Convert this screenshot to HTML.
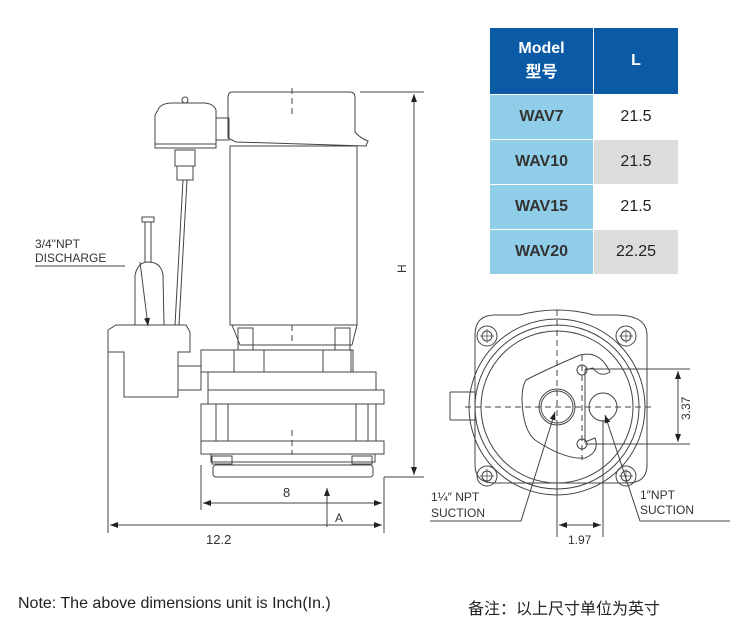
<!DOCTYPE html>
<html><head><meta charset="utf-8"><style>
body{margin:0;background:#fff;width:736px;height:626px;overflow:hidden;position:relative;font-family:"Liberation Sans","Noto Sans CJK SC",sans-serif}
table{position:absolute;left:489px;top:27px;border-collapse:collapse}
td{padding:0;text-align:center;font-size:16px;border:1px solid #fff}
.v{width:84px;color:#222}
.h{background:#0a5aa6;color:#fff !important;font-weight:bold;height:66px}
.m{background:#8fcde8;color:#333;font-weight:bold;width:103px;height:44px}
.g{background:#dcdcdc}
.t{position:absolute;top:595px;font-size:16px;color:#222}
</style></head><body>
<svg width="736" height="626" style="position:absolute;left:0;top:0" fill="none" stroke="#444" stroke-width="1" font-family="Liberation Sans,sans-serif">
<defs><marker id="a" markerWidth="8" markerHeight="6" refX="8" refY="3" orient="auto-start-reverse"><path d="M0,0L8,3L0,6z" fill="#222" stroke="none"/></marker></defs>
<path d="M232,92 Q228,92 228,98 L228,138 Q232,140 236,142 L366,146 L368,141 Q360,138 355,132 L355,98 Q355,92 350,92 Z"/>
<rect x="230" y="146" width="127" height="179"/>
<path d="M292,88 v30" stroke-dasharray="6,4"/>
<path d="M158,110 Q160,104 170,103 L205,103 Q214,104 216,110 L216,148 L155,148 L155,115 Z"/>
<rect x="216" y="118" width="13" height="22"/>
<line x1="155" y1="144" x2="216" y2="144"/>
<circle cx="185" cy="100" r="3"/>
<rect x="175" y="150" width="20" height="16"/><rect x="177" y="166" width="16" height="14"/>
<path d="M183,180 L175,325 M187,180 L179,325"/>
<rect x="142" y="217" width="12" height="5"/><path d="M145,222v40M151,222v40"/>
<path d="M135,325 L135,275 Q138,262 148,262 Q161,262 163,275 L164,325"/>
<path d="M108,330 L116,325 L186,325 L190,332 L190,352 L178,352 L178,397 L124,397 L124,352 L108,352 Z"/>
<rect x="178" y="366" width="23" height="24"/>
<path d="M140,262 L148,326" marker-end="url(#a)"/>
<path d="M232,325 L240,345 L352,345 L357,325"/>
<rect x="238" y="328" width="15" height="22"/><rect x="335" y="328" width="15" height="22"/>
<rect x="201" y="350" width="150" height="22"/>
<rect x="234" y="350" width="30" height="22"/><rect x="323" y="350" width="30" height="22"/>
<rect x="208" y="372" width="168" height="18"/>
<rect x="208" y="390" width="176" height="14"/>
<rect x="201" y="404" width="175" height="37"/>
<rect x="216" y="404" width="12" height="37"/><rect x="356" y="404" width="12" height="37"/>
<rect x="201" y="441" width="183" height="13"/>
<rect x="211" y="454" width="164" height="8"/>
<rect x="213" y="465" width="160" height="12" rx="3"/>
<rect x="212" y="456" width="20" height="8"/><rect x="352" y="456" width="20" height="8"/>
<path d="M292,325v20M292,430v25" stroke-dasharray="6,4"/>
<path d="M360,92 H424 M384,477 H424 M201,465 V510 M384,477 V533 M108,352 V533"/>
<line x1="414" y1="94" x2="414" y2="475" marker-start="url(#a)" marker-end="url(#a)"/>
<text x="408" y="275" transform="rotate(-90 406 275)" font-size="12" fill="#333" stroke="none">H</text>
<line x1="203" y1="503" x2="382" y2="503" marker-start="url(#a)" marker-end="url(#a)"/>
<text x="283" y="497" font-size="13" fill="#333" stroke="none">8</text>
<line x1="110" y1="525" x2="382" y2="525" marker-start="url(#a)" marker-end="url(#a)"/>
<text x="206" y="544" font-size="13" fill="#333" stroke="none">12.2</text>
<line x1="327" y1="527" x2="327" y2="488" marker-end="url(#a)"/>
<text x="335" y="522" font-size="12" fill="#333" stroke="none">A</text>
<text x="35" y="248" font-size="12" fill="#333" stroke="none">3/4"NPT</text>
<text x="35" y="262" font-size="12" fill="#333" stroke="none">DISCHARGE</text>
<path d="M35,266 H125"/>
<path d="M475,335 Q475,315 495,315 L520,315 Q557,305 594,315 L615,315 Q647,315 647,335 L647,465 Q647,483 627,483 L495,483 Q475,483 475,465 Z"/>
<circle cx="557" cy="407" r="88"/><circle cx="557" cy="407" r="82"/><circle cx="557" cy="407" r="76"/>
<g><circle cx="487" cy="336" r="10"/><circle cx="487" cy="336" r="5"/><circle cx="626" cy="336" r="10"/><circle cx="626" cy="336" r="5"/><circle cx="487" cy="476" r="10"/><circle cx="487" cy="476" r="5"/><circle cx="626" cy="476" r="10"/><circle cx="626" cy="476" r="5"/></g>
<path d="M480,336h14M487,329v14M619,336h14M626,329v14M480,476h14M487,469v14M619,476h14M626,469v14" stroke-width=".7"/>
<path d="M526,380 Q545,370 580,355 Q600,350 610,372 Q600,378 593,368 L585,370 L585,442 L595,438 Q600,452 585,458 Q565,460 535,440 Q523,430 522,400 Q522,386 526,380 Z"/>
<circle cx="557" cy="407" r="18"/><circle cx="557" cy="407" r="16"/>
<circle cx="603" cy="407" r="14"/>
<circle cx="582" cy="370" r="5"/><circle cx="582" cy="444" r="5"/>
<path d="M465,407 H655 M557,310 V500 M582,355 V460" stroke-dasharray="6,4"/>
<path d="M450,392 H475 M450,420 H475 M450,392 V420"/>
<path d="M585,369 H690 M585,444 H690"/>
<line x1="678" y1="371" x2="678" y2="442" marker-start="url(#a)" marker-end="url(#a)"/>
<text x="690" y="420" transform="rotate(-90 690 420)" font-size="12" fill="#333" stroke="none">3.37</text>
<path d="M557,425 V537 M603,420 V537"/>
<line x1="559" y1="525" x2="601" y2="525" marker-start="url(#a)" marker-end="url(#a)"/>
<text x="568" y="544" font-size="12" fill="#333" stroke="none">1.97</text>
<path d="M430,521 H521 L555,412" marker-end="url(#a)"/>
<path d="M640,521 H730 L640,521 L605,415" marker-end="url(#a)"/>
<text x="431" y="501" font-size="12" fill="#333" stroke="none">1¼″ NPT</text>
<text x="431" y="517" font-size="12" fill="#333" stroke="none">SUCTION</text>
<text x="640" y="499" font-size="12" fill="#333" stroke="none">1″NPT</text>
<text x="640" y="514" font-size="12" fill="#333" stroke="none">SUCTION</text>
</svg>
<table>
<tr><td class="h" style="width:103px">Model<br>型号</td><td class="v h">L</td></tr>
<tr><td class="m">WAV7</td><td class="v">21.5</td></tr>
<tr><td class="m">WAV10</td><td class="v g">21.5</td></tr>
<tr><td class="m">WAV15</td><td class="v">21.5</td></tr>
<tr><td class="m">WAV20</td><td class="v g">22.25</td></tr>
</table>
<div class="t" style="left:18px">Note: The above dimensions unit is Inch(In.)</div>
<div class="t" style="left:468px">备注：以上尺寸单位为英寸</div>
</body></html>
